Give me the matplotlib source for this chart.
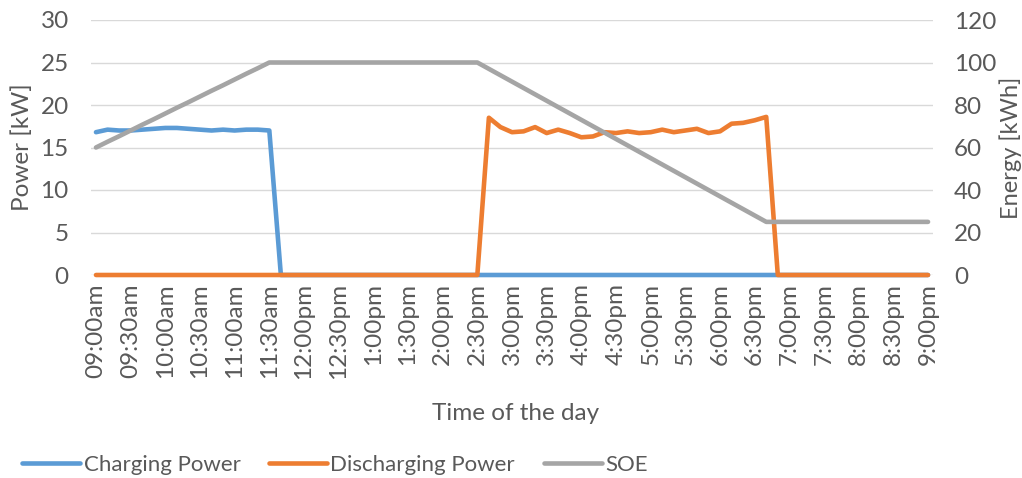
import matplotlib.pyplot as plt

# 10-minute samples from 09:00am to 9:00pm (73 points)
charging = [16.8, 17.1, 17.0, 17.0, 17.1, 17.2, 17.3, 17.3, 17.2, 17.1,
            17.0, 17.1, 17.0, 17.1, 17.1, 17.0] + [0.0] * 57

discharging = [0.0] * 34 + [
    18.5, 17.4, 16.8, 16.9, 17.4, 16.7, 17.1, 16.7, 16.2, 16.3,
    16.8, 16.7, 16.9, 16.7, 16.8, 17.1, 16.8, 17.0, 17.2, 16.7,
    16.9, 17.8, 17.9, 18.2, 18.6] + [0.0] * 14

soe = [60.0, 62.7, 65.3, 68.0, 70.7, 73.3, 76.0, 78.7, 81.3, 84.0,
       86.7, 89.3, 92.0, 94.7, 97.3, 100.0] + [100.0] * 18 + [
       97.0, 94.0, 91.0, 88.0, 85.0, 82.0, 79.0, 76.0, 73.0, 70.0,
       67.0, 64.0, 61.0, 58.0, 55.0, 52.0, 49.0, 46.0, 43.0, 40.0,
       37.0, 34.0, 31.0, 28.0, 25.0] + [25.0] * 14

time_labels = ['09:00am', '09:30am', '10:00am', '10:30am', '11:00am', '11:30am',
               '12:00pm', '12:30pm', '1:00pm', '1:30pm', '2:00pm', '2:30pm',
               '3:00pm', '3:30pm', '4:00pm', '4:30pm', '5:00pm', '5:30pm',
               '6:00pm', '6:30pm', '7:00pm', '7:30pm', '8:00pm', '8:30pm', '9:00pm']

plt.rcParams['font.family'] = ['Lato', 'DejaVu Sans']
text_col = '#595959'
grid_col = '#D9D9D9'

fig = plt.figure(figsize=(10.22, 4.78), dpi=100)
ax = fig.add_axes([91 / 1022, 1 - 275 / 478, 842 / 1022, 255 / 478])
ax2 = ax.twinx()

x = list(range(len(charging)))
style = dict(lw=3.3, solid_capstyle='round', solid_joinstyle='round', clip_on=False)
l1, = ax.plot(x, charging, color='#5B9BD5', label='Charging Power', **style)
l2, = ax.plot(x, discharging, color='#ED7D31', label='Discharging Power', **style)
l3, = ax2.plot(x, soe, color='#A5A5A5', label='SOE', **style)

ax.set_xlim(-0.43, 72.43)
ax.set_ylim(0, 30)
ax2.set_ylim(0, 120)
ax.set_yticks(range(0, 31, 5))
ax2.set_yticks(range(0, 121, 20))
ax.set_xticks(range(0, 73, 3))
ax.set_xticklabels(time_labels, rotation=90)

ax.grid(axis='y', color=grid_col, lw=1)
ax.set_axisbelow(True)
for a in (ax, ax2):
    for s in a.spines.values():
        s.set_visible(False)
    a.tick_params(length=0, labelsize=17.5, colors=text_col)
ax.tick_params(axis='y', pad=16)
ax2.tick_params(axis='y', pad=15)
ax.tick_params(axis='x', pad=6)

# axis titles placed in axes coordinates (left one anchored at its right edge,
# right one at its left edge)
ax.set_ylabel('Power [kW]', fontsize=17.5, color=text_col)
ax2.set_ylabel('Energy [kWh]', fontsize=17, color=text_col)
ax.yaxis.set_label_coords(-0.069, 0.5)
ax2.yaxis.set_label_coords(1.0785, 0.5)
fig.text(516 / 1022, 1 - 414 / 478, 'Time of the day', fontsize=17.5,
         color=text_col, ha='center', va='center')

leg = fig.legend(handles=[l1, l2, l3], loc='center', ncol=3,
                 bbox_to_anchor=(335 / 1022, 1 - 465 / 478), frameon=False,
                 fontsize=16, handlelength=2.6, handletextpad=0.15,
                 columnspacing=1.3)
for t in leg.get_texts():
    t.set_color(text_col)

fig.savefig('out.png', dpi=100)
